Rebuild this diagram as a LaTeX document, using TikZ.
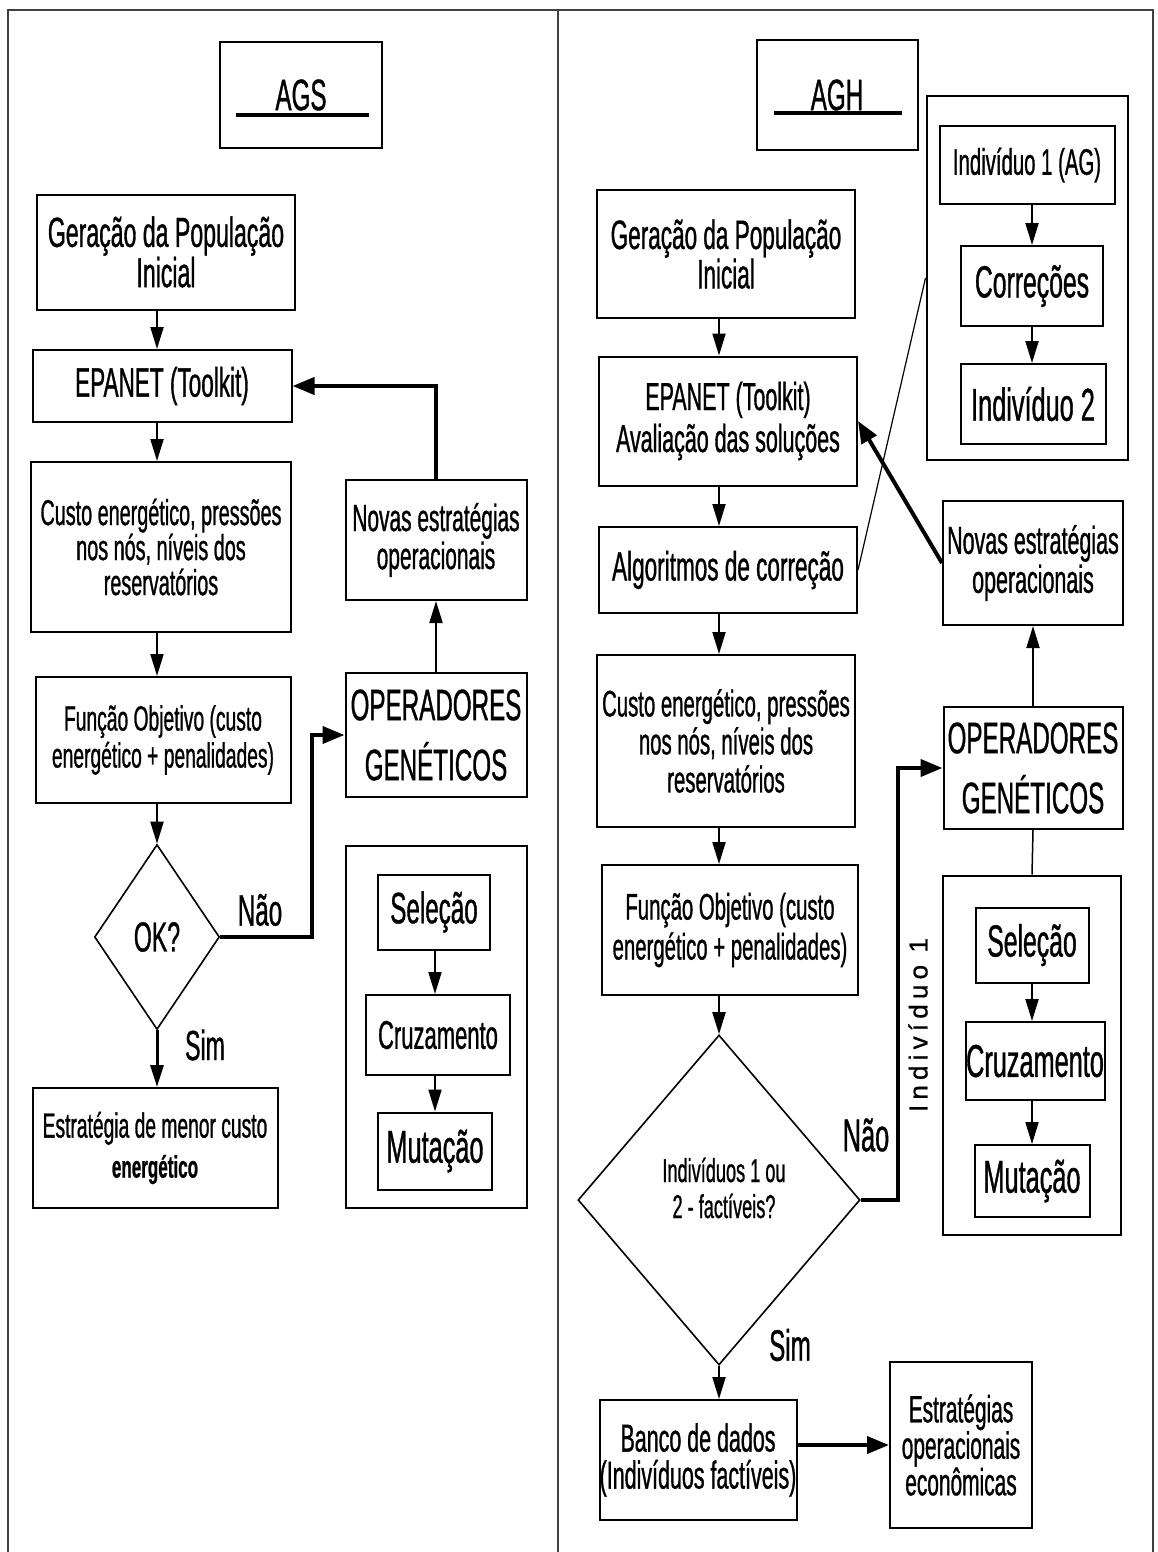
\documentclass[tikz,border=0pt]{standalone}
\usepackage{fontspec}
\setmainfont{Liberation Sans}[FakeStretch=0.55, FakeBold=0.8]
\newfontfamily\spacedfont{Liberation Sans}[LetterSpace=20, FakeBold=0.8]
\usetikzlibrary{arrows.meta,shapes.geometric}
\newcommand{\fsz}[2]{\fontsize{#1}{#2}\selectfont}

\begin{document}
\begin{tikzpicture}[x=1pt, y=-1pt,
	box/.style={draw, line width=2pt, inner sep=0pt, align=center},
	dia/.style={draw, diamond, line width=1.6pt, inner sep=0pt, align=center},
	lbl/.style={inner sep=0pt, align=center},
	arr/.style={line width=2pt, -{Triangle[length=22pt,width=13pt]}},
	thk/.style={line width=4pt, -{Triangle[length=22pt,width=17pt]}}]
	\useasboundingbox (0,0) rectangle (1158,1552);
	\draw[line width=2pt, black!75] (8,1552) -- (8,10) -- (1153,10) -- (1153,1552);
	\draw[line width=1.5pt, black!75] (558,10) -- (558,1552);

	\draw (301,95) node [box, minimum width=162pt, minimum height=106pt, font=\fsz{44}{44}] (ags) {AGS};
	\draw[line width=4pt] (ags.center) ++(-65,20) -- ++(133,0);
	\draw (166,252) node [box, minimum width=258pt, minimum height=115pt, font=\fsz{42}{35}] (gen1) {Geração da População\\Inicial};
	\draw (162,386) node [box, minimum width=259pt, minimum height=72pt, font=\fsz{41}{41}] (epa1) {EPANET (Toolkit)};
	\draw (161,547) node [box, minimum width=260pt, minimum height=170pt, font=\fsz{36}{35}] (cus1) {Custo energético, pressões\\nos nós, níveis dos\\reservatórios};
	\draw (163,740) node [box, minimum width=255pt, minimum height=126pt, font=\fsz{35}{37}] (fun1) {Função Objetivo (custo\\energético + penalidades)};
	\draw (157,937) node [dia, minimum width=125pt, minimum height=185pt, font=\fsz{42}{42}] (ok1) {OK?};
	\draw (155,1148) node [box, minimum width=245pt, minimum height=120pt, font=\fsz{35}{40}] (est1) {Estratégia de menor custo\\{\bfseries\fsz{31}{40}energético}};
	\draw (436,540) node [box, minimum width=181pt, minimum height=120pt, font=\fsz{38}{38}] (nov1) {Novas estratégias\\operacionais};
	\draw (436,735) node [box, minimum width=181pt, minimum height=124pt, font=\fsz{44}{60}] (ope1) {OPERADORES\\GENÉTICOS};
	\draw (436,1027) node [box, minimum width=181pt, minimum height=362pt] (grp1) {};
	\draw (434,912) node [box, minimum width=112pt, minimum height=75pt, font=\fsz{44}{44}] (sel1) {Seleção};
	\draw (438,1035) node [box, minimum width=144pt, minimum height=80pt, font=\fsz{40}{40}] (cru1) {Cruzamento};
	\draw (435,1151) node [box, minimum width=114pt, minimum height=77pt, font=\fsz{46}{46}] (mut1) {Mutação};
	\draw (260,910) node [lbl, font=\fsz{44}{44}] (nao1) {Não};
	\draw (205,1045) node [lbl, font=\fsz{42}{42}] (sim1) {Sim};

	\path
		(gen1.south -| ok1.north) edge[arr] (epa1.north -| ok1.north)
		(epa1.south -| ok1.north) edge[arr] (cus1.north -| ok1.north)
		(cus1.south -| ok1.north) edge[arr] (fun1.north -| ok1.north)
		(fun1.south -| ok1.north) edge[arr] (ok1.north)
		(ope1.north) edge[arr] (nov1.south)
		(sel1.south -| mut1.north) edge[arr] (cru1.north -| mut1.north)
		(cru1.south -| mut1.north) edge[arr] (mut1.north);
	\draw[arr, line width=3pt] (ok1.south) -- (est1.north -| ok1.south);
	\draw[thk] (ok1.east) -- ++(92,0) |- (ope1.west);
	\draw[thk] (nov1.north) |- (epa1.east);

	\draw (837,95) node [box, minimum width=161pt, minimum height=110pt, font=\fsz{44}{44}] (agh) {AGH};
	\draw[line width=4pt] (agh.center) ++(-63,18) -- ++(128,0);
	\draw (726,254) node [box, minimum width=258pt, minimum height=128pt, font=\fsz{41}{38}] (gen2) {Geração da População\\Inicial};
	\draw (728,421) node [box, minimum width=258pt, minimum height=129pt, font=\fsz{39}{42}] (epa2) {EPANET (Toolkit)\\Avaliação das soluções};
	\draw (728,570) node [box, minimum width=258pt, minimum height=86pt, font=\fsz{41}{41}] (alg) {Algoritmos de correção};
	\draw (726,741) node [box, minimum width=258pt, minimum height=172pt, font=\fsz{37}{38}] (cus2) {Custo energético, pressões\\nos nós, níveis dos\\reservatórios};
	\draw (730,930) node [box, minimum width=256pt, minimum height=130pt, font=\fsz{37}{40}] (fun2) {Função Objetivo (custo\\energético + penalidades)};
	\draw (719,1200) node [dia, minimum width=282pt, minimum height=330pt] (ind) {};
	\draw (724,1188) node [lbl, font=\fsz{33}{36}] (indq) {Indivíduos 1 ou\\2 - factíveis?};
	\draw (698,1460) node [box, minimum width=197pt, minimum height=120pt, font=\fsz{39}{37}] (ban) {Banco de dados\\(Indivíduos factíveis)};
	\draw (961,1445) node [box, minimum width=142pt, minimum height=166pt, font=\fsz{38}{32}] (eco) {Estratégias\\operacionais\\econômicas};
	\draw (1027,278) node [box, minimum width=201pt, minimum height=364pt] (grpI) {};
	\draw (1027,165) node [box, minimum width=175pt, minimum height=78pt, font=\fsz{37}{37}] (ind1) {Indivíduo 1 (AG)};
	\draw (1032,286) node [box, minimum width=142pt, minimum height=80pt, font=\fsz{45}{45}] (cor) {Correções};
	\draw (1033,404) node [box, minimum width=145pt, minimum height=80pt, font=\fsz{46}{46}] (ind2) {Indivíduo 2};
	\draw (1033,563) node [box, minimum width=180pt, minimum height=124pt, font=\fsz{39}{39}] (nov2) {Novas estratégias\\operacionais};
	\draw (1033,768) node [box, minimum width=179pt, minimum height=122pt, font=\fsz{44}{60}] (ope2) {OPERADORES\\GENÉTICOS};
	\draw (1032,1055) node [box, minimum width=178pt, minimum height=359pt] (grp2) {};
	\draw (1032,945) node [box, minimum width=113pt, minimum height=75pt, font=\fsz{45}{45}] (sel2) {Seleção};
	\draw (1035,1061) node [box, minimum width=139pt, minimum height=78pt, font=\fsz{46}{46}] (cru2) {Cruzamento};
	\draw (1032,1181) node [box, minimum width=115pt, minimum height=72pt, font=\fsz{46}{46}] (mut2) {Mutação};
	\draw (866,1135) node [lbl, font=\fsz{46}{46}] (nao2) {Não};
	\draw (790,1345) node [lbl, font=\fsz{44}{44}] (sim2) {Sim};
	\draw (918,1025) node [lbl, rotate=90, font={\spacedfont\fsz{26}{26}}] (vind) {Indivíduo 1};

	\path
		(gen2.south -| ind.north) edge[arr] (epa2.north -| ind.north)
		(epa2.south -| ind.north) edge[arr] (alg.north -| ind.north)
		(alg.south -| ind.north) edge[arr] (cus2.north -| ind.north)
		(cus2.south -| ind.north) edge[arr] (fun2.north -| ind.north)
		(fun2.south -| ind.north) edge[arr] (ind.north)
		(ind.south) edge[arr] (ban.north -| ind.south)
		(ind1.south -| cor.north) edge[arr] (cor.north)
		(cor.south) edge[arr] (ind2.north -| cor.south)
		(ope2.north) edge[arr] (nov2.south)
		(sel2.south) edge[arr] (cru2.north -| sel2.south)
		(cru2.south -| sel2.south) edge[arr] (mut2.north -| sel2.south);
	\draw[line width=1.5pt] (ope2.south) -- (grp2.north);
	\draw[line width=1.2pt] (alg.east) -- (grpI.west);
	\draw[thk] (nov2.west) -- (epa2.east);
	\draw[thk] (ind.east) -- ++(37,0) |- (ope2.west);
	\draw[thk] (ban.east |- eco.west) -- (eco.west);
\end{tikzpicture}
\end{document}
